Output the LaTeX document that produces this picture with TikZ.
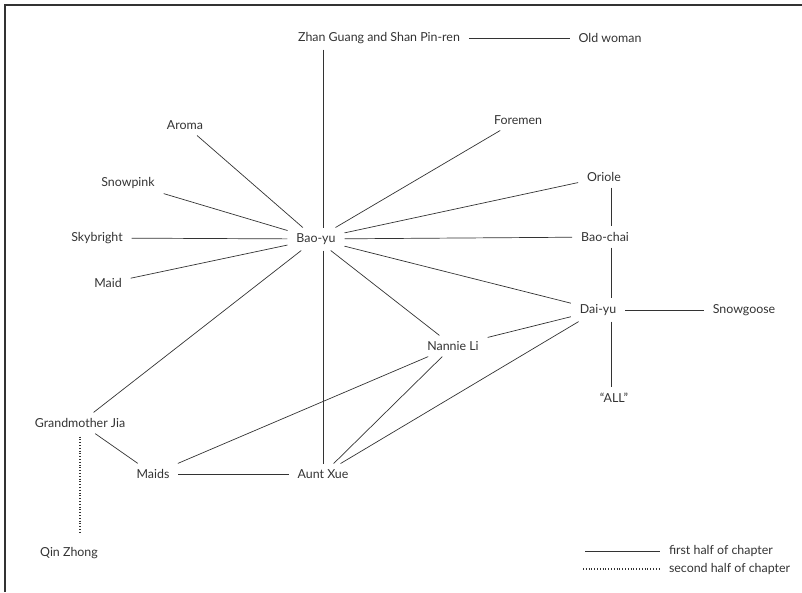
\documentclass[tikz,border=0pt]{standalone}
\usepackage{fontspec}
\setmainfont{Lato}
\begin{document}
\begin{tikzpicture}[x=1pt, y=-1pt,
    every node/.style={inner xsep=7pt, inner ysep=4pt, outer sep=2pt, font=\fontsize{12.4}{14}\selectfont},
    color=black!80, line width=0.7pt, % thin grey lines
    later/.style={line width=1.5pt, dash pattern=on 1pt off 1.8pt}
    ]
    \useasboundingbox (0,0) rectangle (802,592);

    % Frame
    \draw[line width=1.2pt] (5,592) -- (5,5) -- (802,5);

    % Define nodes
    \node (zhan) at (379,38) {Zhan Guang and Shan Pin-ren};
    \node (old) at (610,38) {Old woman};
    \node (aroma) at (185,125) {Aroma};
    \node (fore) at (518,120) {Foremen};
    \node (snowp) at (128,183) {Snowpink};
    \node (oriole) at (604,177) {Oriole};
    \node (sky) at (97,238) {Skybright};
    \node (baoyu) at (316,239) {Bao-yu};
    \node (baochai) at (605,237) {Bao-chai};
    \node (maid) at (108,283) {Maid};
    \node (daiyu) at (598,310) {Dai-yu};
    \node (snowg) at (744,310) {Snowgoose};
    \node (nannie) at (453,346) {Nannie Li};
    \node (all) at (614,398) {“ALL”};
    \node (gma) at (80,423) {Grandmother Jia};
    \node (maids) at (153,474) {Maids};
    \node (xue) at (323,474) {Aunt Xue};
    \node (qin) at (69,553) {Qin Zhong};
    \coordinate (vx) at (611,0);

    % Draw edges
    \draw (zhan) -- (old);
    \draw (zhan.south -| xue) -- (baoyu.north -| xue);
    \draw (baoyu.south -| xue) -- (xue);
    \draw (aroma) -- (baoyu);
    \draw (snowp) -- (baoyu);
    \draw (sky) -- (baoyu);
    \draw (maid) -- (baoyu);
    \draw (fore) -- (baoyu);
    \draw (oriole) -- (baoyu);
    \draw (baochai) -- (baoyu);
    \draw (daiyu) -- (baoyu);
    \draw (nannie) -- (baoyu);
    \draw (gma) -- (baoyu);
    \draw (oriole.south -| vx) -- (baochai.north -| vx);
    \draw (baochai.south -| vx) -- (daiyu.north -| vx);
    \draw (daiyu.south -| vx) -- (all.north -| vx);
    \draw (daiyu) -- (snowg);
    \draw (daiyu) -- (nannie);
    \draw (daiyu) -- (xue);
    \draw (nannie) -- (maids);
    \draw (nannie) -- (xue);
    \draw (gma) -- (maids);
    \draw (maids) -- (xue);
    \draw[later, shorten <=3pt, shorten >=9pt] (gma.south) -- (qin.north -| gma);

    % Legend
    \node[right] (first) at (660,551) {first half of chapter};
    \node[right] (second) at (660,569) {second half of chapter};
    \coordinate (s1) at (585,551);
    \coordinate (s2) at (583,569);
    \draw[line width=0.9pt] (s1) -- (first);
    \draw[later] (s2) -- (second);

\end{tikzpicture}
\end{document}
